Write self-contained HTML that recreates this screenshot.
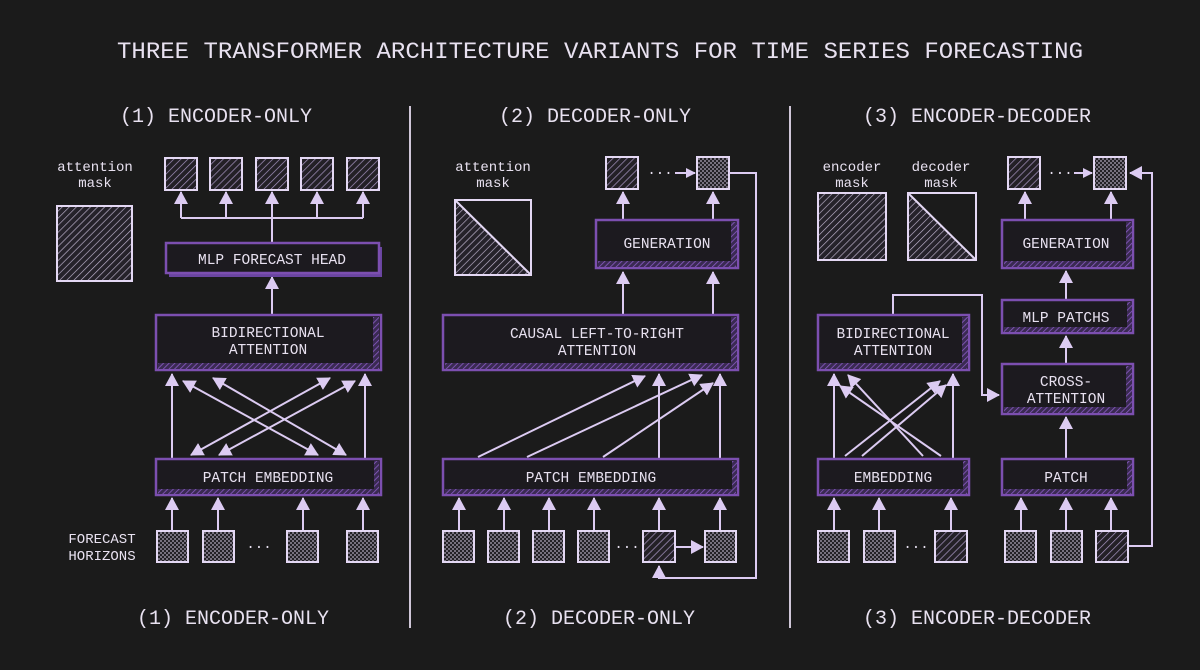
<!DOCTYPE html>
<html><head><meta charset="utf-8"><style>
html,body{margin:0;padding:0;background:#1b1b1b;}
svg{display:block}
text{font-family:"Liberation Mono","DejaVu Sans Mono",monospace;fill:#e8e1f0}
.ln{stroke:#dccbf2;stroke-width:2;fill:none}
.bx{fill:#1c1a1f;stroke:#7c4fb0;stroke-width:2.5}
.sq{stroke:#e4d8f4;stroke-width:2}
</style></head><body>
<svg width="1200" height="670" viewBox="0 0 1200 670" xmlns="http://www.w3.org/2000/svg">
<defs>
<pattern id="hp" width="5" height="5" patternUnits="userSpaceOnUse" patternTransform="rotate(45)">
<rect width="5" height="5" fill="#232026"/><line x1="0" y1="0" x2="0" y2="5" stroke="#a896c2" stroke-width="1.4"/></pattern>
<pattern id="hw" width="5" height="5" patternUnits="userSpaceOnUse" patternTransform="rotate(45)">
<rect width="5" height="5" fill="#25222a"/><line x1="0" y1="0" x2="0" y2="5" stroke="#c3b7d2" stroke-width="1.3"/></pattern>
<pattern id="ck" width="4" height="4" patternUnits="userSpaceOnUse">
<rect width="4" height="4" fill="#232126"/><rect width="2" height="2" fill="#77717f"/><rect x="2" y="2" width="2" height="2" fill="#77717f"/></pattern>
<pattern id="bh" width="4" height="4" patternUnits="userSpaceOnUse" patternTransform="rotate(45)">
<rect width="4" height="4" fill="#3a2a52"/><line x1="0" y1="0" x2="0" y2="4" stroke="#8a5cc4" stroke-width="1.6"/></pattern>
<marker id="a" markerWidth="10" markerHeight="10" refX="9" refY="5" orient="auto" markerUnits="userSpaceOnUse"><path d="M0,0 L10,5 L0,10 z" fill="#dccbf2"/></marker>
<marker id="b" markerWidth="14" markerHeight="14" refX="12" refY="7" orient="auto-start-reverse" markerUnits="userSpaceOnUse"><path d="M0,0 L13,7 L0,14 z" fill="#dccbf2"/></marker>
</defs>
<rect width="1200" height="670" fill="#1b1b1b"/>

<text x="600" y="58" font-size="23" text-anchor="middle" textLength="966" lengthAdjust="spacingAndGlyphs">THREE TRANSFORMER ARCHITECTURE VARIANTS FOR TIME SERIES FORECASTING</text>

<line x1="410" y1="106" x2="410" y2="628" stroke="#cfc6d8" stroke-width="2"/>
<line x1="790" y1="106" x2="790" y2="628" stroke="#cfc6d8" stroke-width="2"/>

<g font-size="20" text-anchor="middle">
<text x="216" y="122">(1) ENCODER-ONLY</text>
<text x="595" y="122">(2) DECODER-ONLY</text>
<text x="977" y="122">(3) ENCODER-DECODER</text>
<text x="233" y="624">(1) ENCODER-ONLY</text>
<text x="599" y="624">(2) DECODER-ONLY</text>
<text x="977" y="624">(3) ENCODER-DECODER</text>
</g>

<!-- ============ PANEL 1 ============ -->
<g font-size="14" text-anchor="middle">
<text x="95" y="171">attention</text><text x="95" y="187">mask</text>
<text x="102" y="543">FORECAST</text><text x="102" y="560">HORIZONS</text>
</g>
<rect x="57" y="206" width="75" height="75" fill="url(#hw)" class="sq"/>

<g class="sq">
<rect x="165" y="158" width="32" height="32" fill="url(#hp)"/>
<rect x="210" y="158" width="32" height="32" fill="url(#hp)"/>
<rect x="256" y="158" width="32" height="32" fill="url(#hp)"/>
<rect x="301" y="158" width="32" height="32" fill="url(#hp)"/>
<rect x="347" y="158" width="32" height="32" fill="url(#hp)"/>
</g>
<g class="ln">
<path d="M181,218 H363"/>
<line x1="181" y1="218" x2="181" y2="192" marker-end="url(#b)"/>
<line x1="226" y1="218" x2="226" y2="192" marker-end="url(#b)"/>
<line x1="272" y1="243" x2="272" y2="192" marker-end="url(#b)"/>
<line x1="317" y1="218" x2="317" y2="192" marker-end="url(#b)"/>
<line x1="363" y1="218" x2="363" y2="192" marker-end="url(#b)"/>
<line x1="272" y1="315" x2="272" y2="277" marker-end="url(#b)"/>
</g>

<rect x="169" y="247" width="213" height="30" fill="#6a45a0"/>
<rect x="166" y="243" width="213" height="30" class="bx"/>
<text x="272" y="264" font-size="14.5" text-anchor="middle">MLP FORECAST HEAD</text>

<rect x="156" y="315" width="225" height="55" class="bx"/>
<rect x="158" y="363" width="221" height="6" fill="url(#bh)"/>
<rect x="373" y="317" width="6" height="50" fill="url(#bh)"/>
<text x="268" y="337" font-size="14.5" text-anchor="middle">BIDIRECTIONAL</text>
<text x="268" y="354" font-size="14.5" text-anchor="middle">ATTENTION</text>

<g class="ln">
<line x1="172" y1="458" x2="172" y2="374" marker-end="url(#b)"/>
<line x1="365" y1="458" x2="365" y2="374" marker-end="url(#b)"/>
<line x1="318" y1="455" x2="183" y2="381" marker-end="url(#b)" marker-start="url(#b)"/>
<line x1="346" y1="455" x2="213" y2="378" marker-end="url(#b)" marker-start="url(#b)"/>
<line x1="191" y1="455" x2="330" y2="378" marker-end="url(#b)" marker-start="url(#b)"/>
<line x1="219" y1="455" x2="355" y2="381" marker-end="url(#b)" marker-start="url(#b)"/>
</g>

<rect x="156" y="459" width="225" height="36" class="bx"/>
<rect x="158" y="489" width="221" height="5" fill="url(#bh)"/>
<rect x="374" y="461" width="5" height="30" fill="url(#bh)"/>
<text x="268" y="482" font-size="14.5" text-anchor="middle">PATCH EMBEDDING</text>

<g class="ln">
<line x1="172" y1="531" x2="172" y2="498" marker-end="url(#b)"/>
<line x1="218" y1="531" x2="218" y2="498" marker-end="url(#b)"/>
<line x1="303" y1="531" x2="303" y2="498" marker-end="url(#b)"/>
<line x1="363" y1="531" x2="363" y2="498" marker-end="url(#b)"/>
</g>
<g class="sq">
<rect x="157" y="531" width="31" height="31" fill="url(#ck)"/>
<rect x="203" y="531" width="31" height="31" fill="url(#ck)"/>
<rect x="287" y="531" width="31" height="31" fill="url(#ck)"/>
<rect x="347" y="531" width="31" height="31" fill="url(#ck)"/>
</g>
<text x="259" y="551" font-size="14" text-anchor="middle">···</text>

<!-- ============ PANEL 2 ============ -->
<g font-size="14" text-anchor="middle">
<text x="493" y="171">attention</text><text x="493" y="187">mask</text>
</g>
<rect x="455" y="200" width="76" height="75" fill="#1b1b1b" class="sq"/>
<polygon points="456,201 530,274 456,274" fill="url(#hw)"/>
<line x1="456" y1="201" x2="530" y2="274" stroke="#e4d8f4" stroke-width="2"/>

<g class="sq">
<rect x="606" y="157" width="32" height="32" fill="url(#hp)"/>
<rect x="697" y="157" width="32" height="32" fill="url(#ck)"/>
</g>
<text x="660" y="177" font-size="14" text-anchor="middle">···</text>
<g class="ln">
<line x1="675" y1="173" x2="695" y2="173" marker-end="url(#a)"/>
<path d="M729,173 H756 V578 H659 V566" marker-end="url(#b)"/>
<line x1="623" y1="220" x2="623" y2="192" marker-end="url(#b)"/>
<line x1="713" y1="220" x2="713" y2="192" marker-end="url(#b)"/>
<line x1="623" y1="315" x2="623" y2="272" marker-end="url(#b)"/>
<line x1="713" y1="315" x2="713" y2="272" marker-end="url(#b)"/>
</g>

<rect x="596" y="220" width="142" height="48" class="bx"/>
<rect x="598" y="261" width="138" height="6" fill="url(#bh)"/>
<rect x="731" y="222" width="6" height="42" fill="url(#bh)"/>
<text x="667" y="248" font-size="14.5" text-anchor="middle">GENERATION</text>

<rect x="443" y="315" width="295" height="55" class="bx"/>
<rect x="445" y="363" width="291" height="6" fill="url(#bh)"/>
<rect x="731" y="317" width="6" height="50" fill="url(#bh)"/>
<text x="597" y="338" font-size="14.5" text-anchor="middle">CAUSAL LEFT-TO-RIGHT</text>
<text x="597" y="355" font-size="14.5" text-anchor="middle">ATTENTION</text>

<g class="ln">
<line x1="478" y1="457" x2="645" y2="376" marker-end="url(#b)"/>
<line x1="527" y1="457" x2="702" y2="375" marker-end="url(#b)"/>
<line x1="603" y1="457" x2="713" y2="383" marker-end="url(#b)"/>
<line x1="659" y1="458" x2="659" y2="374" marker-end="url(#b)"/>
<line x1="720" y1="458" x2="720" y2="374" marker-end="url(#b)"/>
</g>

<rect x="443" y="459" width="295" height="36" class="bx"/>
<rect x="445" y="489" width="291" height="5" fill="url(#bh)"/>
<rect x="732" y="461" width="5" height="30" fill="url(#bh)"/>
<text x="591" y="482" font-size="14.5" text-anchor="middle">PATCH EMBEDDING</text>

<g class="ln">
<line x1="459" y1="531" x2="459" y2="498" marker-end="url(#b)"/>
<line x1="504" y1="531" x2="504" y2="498" marker-end="url(#b)"/>
<line x1="549" y1="531" x2="549" y2="498" marker-end="url(#b)"/>
<line x1="594" y1="531" x2="594" y2="498" marker-end="url(#b)"/>
<line x1="659" y1="531" x2="659" y2="498" marker-end="url(#b)"/>
<line x1="720" y1="531" x2="720" y2="498" marker-end="url(#b)"/>
<line x1="675" y1="547" x2="703" y2="547" marker-end="url(#b)"/>
</g>
<g class="sq">
<rect x="443" y="531" width="31" height="31" fill="url(#ck)"/>
<rect x="488" y="531" width="31" height="31" fill="url(#ck)"/>
<rect x="533" y="531" width="31" height="31" fill="url(#ck)"/>
<rect x="578" y="531" width="31" height="31" fill="url(#ck)"/>
<rect x="643" y="531" width="32" height="31" fill="url(#hp)"/>
<rect x="705" y="531" width="31" height="31" fill="url(#ck)"/>
</g>
<text x="627" y="551" font-size="14" text-anchor="middle">···</text>

<!-- ============ PANEL 3 ============ -->
<g font-size="14" text-anchor="middle">
<text x="852" y="171">encoder</text><text x="852" y="187">mask</text>
<text x="941" y="171">decoder</text><text x="941" y="187">mask</text>
</g>
<rect x="818" y="193" width="68" height="67" fill="url(#hw)" class="sq"/>
<rect x="908" y="193" width="68" height="67" fill="#1b1b1b" class="sq"/>
<polygon points="909,194 975,259 909,259" fill="url(#hw)"/>
<line x1="909" y1="194" x2="975" y2="259" stroke="#e4d8f4" stroke-width="2"/>

<g class="sq">
<rect x="1008" y="157" width="32" height="32" fill="url(#hp)"/>
<rect x="1094" y="157" width="32" height="32" fill="url(#ck)"/>
</g>
<text x="1060" y="177" font-size="14" text-anchor="middle">···</text>
<g class="ln">
<line x1="1074" y1="173" x2="1092" y2="173" marker-end="url(#a)"/>
<path d="M1128,546 H1152 V173 H1130" marker-end="url(#b)"/>
<line x1="1025" y1="220" x2="1025" y2="192" marker-end="url(#b)"/>
<line x1="1111" y1="220" x2="1111" y2="192" marker-end="url(#b)"/>
<line x1="1066" y1="300" x2="1066" y2="271" marker-end="url(#b)"/>
<line x1="1066" y1="364" x2="1066" y2="336" marker-end="url(#b)"/>
<line x1="1066" y1="459" x2="1066" y2="417" marker-end="url(#b)"/>
<path d="M893,315 V295 H982 V395 H999" marker-end="url(#b)"/>
</g>

<rect x="1002" y="220" width="131" height="48" class="bx"/>
<rect x="1004" y="261" width="127" height="6" fill="url(#bh)"/>
<rect x="1126" y="222" width="6" height="42" fill="url(#bh)"/>
<text x="1066" y="248" font-size="14.5" text-anchor="middle">GENERATION</text>

<rect x="1002" y="300" width="131" height="33" class="bx"/>
<rect x="1004" y="327" width="127" height="5" fill="url(#bh)"/>
<rect x="1127" y="302" width="5" height="26" fill="url(#bh)"/>
<text x="1066" y="322" font-size="14.5" text-anchor="middle">MLP PATCHS</text>

<rect x="1002" y="364" width="131" height="50" class="bx"/>
<rect x="1004" y="407" width="127" height="6" fill="url(#bh)"/>
<rect x="1126" y="366" width="6" height="44" fill="url(#bh)"/>
<text x="1066" y="386" font-size="14.5" text-anchor="middle">CROSS-</text>
<text x="1066" y="403" font-size="14.5" text-anchor="middle">ATTENTION</text>

<rect x="818" y="315" width="151" height="55" class="bx"/>
<rect x="820" y="363" width="147" height="6" fill="url(#bh)"/>
<rect x="962" y="317" width="6" height="50" fill="url(#bh)"/>
<text x="893" y="338" font-size="14.5" text-anchor="middle">BIDIRECTIONAL</text>
<text x="893" y="355" font-size="14.5" text-anchor="middle">ATTENTION</text>

<g class="ln">
<line x1="834" y1="458" x2="834" y2="374" marker-end="url(#b)"/>
<line x1="953" y1="458" x2="953" y2="374" marker-end="url(#b)"/>
<line x1="941" y1="456" x2="840" y2="386" marker-end="url(#b)"/>
<line x1="923" y1="456" x2="848" y2="375" marker-end="url(#b)"/>
<line x1="845" y1="456" x2="940" y2="381" marker-end="url(#b)"/>
<line x1="862" y1="456" x2="946" y2="385" marker-end="url(#b)"/>
</g>

<rect x="818" y="459" width="151" height="36" class="bx"/>
<rect x="820" y="489" width="147" height="5" fill="url(#bh)"/>
<rect x="963" y="461" width="5" height="30" fill="url(#bh)"/>
<text x="893" y="482" font-size="14.5" text-anchor="middle">EMBEDDING</text>

<rect x="1002" y="459" width="131" height="36" class="bx"/>
<rect x="1004" y="489" width="127" height="5" fill="url(#bh)"/>
<rect x="1127" y="461" width="5" height="30" fill="url(#bh)"/>
<text x="1066" y="482" font-size="14.5" text-anchor="middle">PATCH</text>

<g class="ln">
<line x1="834" y1="531" x2="834" y2="498" marker-end="url(#b)"/>
<line x1="879" y1="531" x2="879" y2="498" marker-end="url(#b)"/>
<line x1="951" y1="531" x2="951" y2="498" marker-end="url(#b)"/>
<line x1="1021" y1="531" x2="1021" y2="498" marker-end="url(#b)"/>
<line x1="1066" y1="531" x2="1066" y2="498" marker-end="url(#b)"/>
<line x1="1111" y1="531" x2="1111" y2="498" marker-end="url(#b)"/>
</g>
<g class="sq">
<rect x="818" y="531" width="31" height="31" fill="url(#ck)"/>
<rect x="864" y="531" width="31" height="31" fill="url(#ck)"/>
<rect x="935" y="531" width="32" height="31" fill="url(#hp)"/>
<rect x="1005" y="531" width="31" height="31" fill="url(#ck)"/>
<rect x="1051" y="531" width="31" height="31" fill="url(#ck)"/>
<rect x="1096" y="531" width="32" height="31" fill="url(#hp)"/>
</g>
<text x="916" y="551" font-size="14" text-anchor="middle">···</text>
</svg>
</body></html>
